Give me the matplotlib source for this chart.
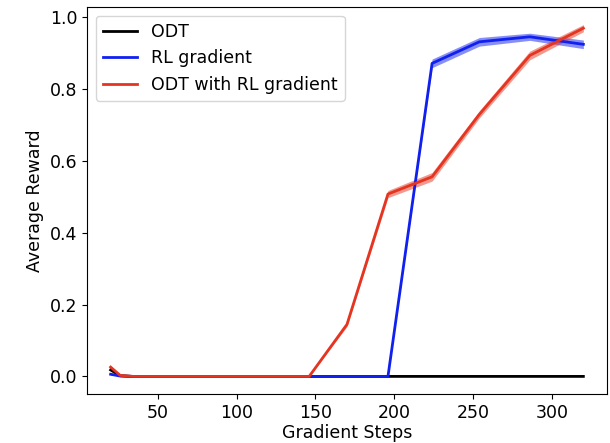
import numpy as np
import matplotlib
matplotlib.use("Agg")
import matplotlib.pyplot as plt

# training steps (x) and average reward of each method
steps = [20, 26, 34, 44, 56, 70, 86, 104, 124, 146, 170, 196, 224, 254, 286, 320]
odt = [0.018, 0.002, 0, 0, 0, 0, 0, 0, 0, 0, 0, 0, 0, 0, 0, 0]
rl_grad = [0.006, 0.001, 0, 0, 0, 0, 0, 0, 0, 0, 0, 0, 0.872, 0.932, 0.946, 0.925]
odt_rl = [0.026, 0.003, 0, 0, 0, 0, 0, 0, 0, 0, 0.145, 0.508, 0.556, 0.73, 0.894, 0.97]
rl_grad_std = [0.002, 0, 0, 0, 0, 0, 0, 0, 0, 0, 0, 0, 0.012, 0.012, 0.01, 0.012]
odt_rl_std = [0.004, 0, 0, 0, 0, 0, 0, 0, 0, 0, 0.006, 0.01, 0.012, 0.01, 0.012, 0.01]

plt.rcParams["font.size"] = 12.5

fig, ax = plt.subplots(figsize=(6.1, 4.43), dpi=100)
fig.subplots_adjust(left=87 / 610, right=607 / 610, top=1 - 7 / 443, bottom=1 - 394 / 443)

series = [
    ("ODT", odt, None, "black"),
    ("RL gradient", rl_grad, rl_grad_std, "#1020f0"),
    ("ODT with RL gradient", odt_rl, odt_rl_std, "#e5341f"),
]
for name, vals, std, color in series:
    vals = np.array(vals)
    ax.plot(steps, vals, color=color, lw=2, label=name)
    if std is not None:
        std = np.array(std)
        ax.fill_between(steps, vals - std, vals + std, color=color, alpha=0.5, lw=0)

ax.set_xlabel("Gradient Steps", labelpad=1.5)
ax.set_ylabel("Average Reward")
ax.legend(loc="upper left")

plt.savefig("out.png", dpi=100)
plt.close()
